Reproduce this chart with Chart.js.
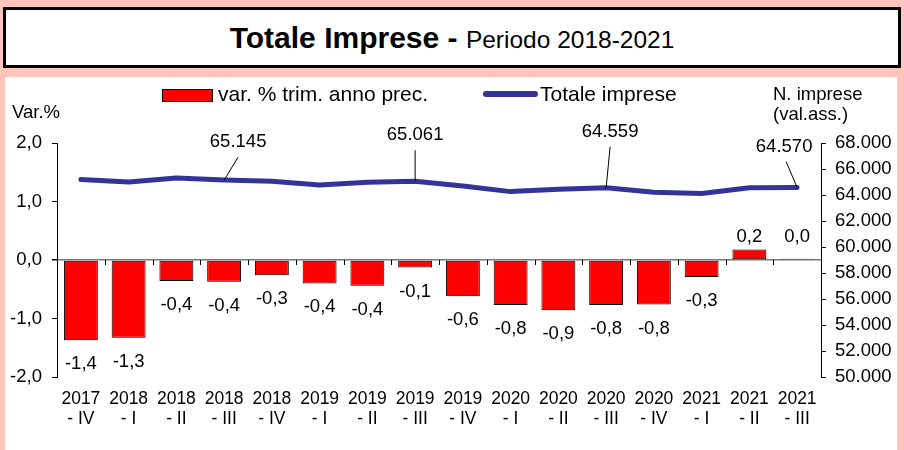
<!DOCTYPE html>
<html>
<head>
<meta charset="utf-8">
<script src="https://cdn.jsdelivr.net/npm/chart.js@4.4.1/dist/chart.umd.min.js"></script>
<style>
  body { margin: 0; width: 904px; height: 450px; overflow: hidden; background: #ffc4bb; font-family: "Liberation Sans", Arial, sans-serif; position: relative; }
  #title { position: absolute; left: 3px; top: 7px; width: 892px; height: 55px; border: 3px solid #000; background: #fff; text-align: center; line-height: 56px; white-space: nowrap; }
  #title b { font-size: 30px; }
  #title span { font-size: 24.5px; }
  #panel { position: absolute; left: 5px; top: 77px; width: 892px; height: 373px; background: #fff; }
  .txt { position: absolute; font-size: 18.5px; color: #000; white-space: nowrap; line-height: 20px; }
  .leg { font-size: 21px; }
  #boxBar { position: absolute; left: 162px; top: 89px; width: 49px; height: 11px; background: #ff0000; border: 1px solid #000; }
  #boxLine { position: absolute; left: 483px; top: 91px; width: 55px; height: 6px; background: #333399; border-radius: 3px; }
</style>
</head>
<body>
<div id="title"><b>Totale Imprese - </b><span>Periodo 2018-2021</span></div>
<div id="panel"><canvas id="chart" width="892" height="373"></canvas></div>
<div id="boxBar"></div>
<div class="txt leg" style="left:218px; top:84px;">var. % trim. anno prec.</div>
<div id="boxLine"></div>
<div class="txt leg" style="left:540px; top:84px;">Totale imprese</div>
<div class="txt" style="left:12px; top:102px;">Var.%</div>
<div class="txt" style="left:773px; top:84px;">N. imprese</div>
<div class="txt" style="left:773px; top:104px;">(val.ass.)</div>
<script>
// Dati
const categorie = [
    ['2017', '- IV'], ['2018', '- I'], ['2018', '- II'], ['2018', '- III'], ['2018', '- IV'],
    ['2019', '- I'], ['2019', '- II'], ['2019', '- III'], ['2019', '- IV'],
    ['2020', '- I'], ['2020', '- II'], ['2020', '- III'], ['2020', '- IV'],
    ['2021', '- I'], ['2021', '- II'], ['2021', '- III']
];
const varPerc = [-1.37, -1.33, -0.36, -0.37, -0.26, -0.40, -0.44, -0.13, -0.62, -0.77, -0.86, -0.77, -0.76, -0.29, 0.18, 0.02];
const totaleImprese = [65200, 65000, 65310, 65145, 65050, 64770, 64990, 65061, 64700, 64260, 64440, 64559, 64210, 64120, 64560, 64570];
const tickVar = [-2, -1, 0, 1, 2];
const tickImprese = [50000, 52000, 54000, 56000, 58000, 60000, 62000, 64000, 66000, 68000];
// punti del totale con etichetta
const etichetteIdx = [3, 7, 11, 15];
const etichetteOffset = [[14, -38], [0, -46], [4, -56], [-13, -41]];

const FONT = '"Liberation Sans", Arial, sans-serif';

function fmtVar(v) {
    return v.toFixed(1).replace('.', ',');
}
function fmtMigliaia(v) {
    return String(Math.round(v)).replace(/\B(?=(\d{3})+(?!\d))/g, '.');
}

// etichette, linee guida e tacche sull'asse dello zero
const etichettePlugin = {
    id: 'etichette',
    afterDatasetsDraw(chart) {
        const ctx = chart.ctx;
        const x = chart.scales.x;
        const y = chart.scales.y;
        const zeroY = y.getPixelForValue(0);

        ctx.save();
        // tacche tra le categorie
        ctx.strokeStyle = '#000';
        ctx.lineWidth = 1;
        for (let i = 1; i < categorie.length; i++) {
            const px = Math.round((x.getPixelForValue(i - 1) + x.getPixelForValue(i)) / 2) + 0.5;
            ctx.beginPath();
            ctx.moveTo(px, zeroY);
            ctx.lineTo(px, zeroY + 5);
            ctx.stroke();
        }

        ctx.fillStyle = '#000';
        ctx.font = '18.5px ' + FONT;
        ctx.textAlign = 'center';
        ctx.textBaseline = 'middle';

        // etichette barre
        chart.getDatasetMeta(1).data.forEach((bar, i) => {
            const v = varPerc[i];
            if (v < 0) {
                ctx.fillText(fmtVar(v), bar.x, bar.y + 24);
            } else {
                ctx.fillText(fmtVar(v), bar.x, Math.min(bar.y, zeroY - 10) - 13);
            }
        });

        // etichette linea
        const lineMeta = chart.getDatasetMeta(0);
        etichetteIdx.forEach((idx, k) => {
            const pt = lineMeta.data[idx];
            const tx = pt.x + etichetteOffset[k][0];
            const ty = pt.y + etichetteOffset[k][1];
            ctx.fillText(fmtMigliaia(totaleImprese[idx]), tx, ty);
            ctx.beginPath();
            ctx.moveTo(tx + (k === 3 ? 2 : 0), ty + 15);
            ctx.lineTo(pt.x, pt.y);
            ctx.stroke();
        });
        ctx.restore();
    }
};

new Chart(document.getElementById('chart'), {
    type: 'bar',
    data: {
        labels: categorie,
        datasets: [
            {
                type: 'line',
                label: 'Totale imprese',
                data: totaleImprese,
                yAxisID: 'y2',
                borderColor: '#333399',
                borderWidth: 5,
                borderJoinStyle: 'round',
                borderCapStyle: 'round',
                pointRadius: 0,
                tension: 0,
                order: 0
            },
            {
                label: 'var. % trim. anno prec.',
                data: varPerc,
                yAxisID: 'y',
                backgroundColor: '#ff0000',
                borderColor: '#000',
                borderWidth: 1,
                borderSkipped: false,
                categoryPercentage: 1,
                barPercentage: 0.71,
                order: 1
            }
        ]
    },
    options: {
        responsive: false,
        animation: false,
        layout: { padding: { top: 66, left: 0, right: 0, bottom: 0 } },
        plugins: {
            legend: { display: false },
            tooltip: { enabled: false }
        },
        scales: {
            x: {
                grid: { display: false, drawTicks: false },
                border: { display: false },
                ticks: {
                    color: '#000',
                    font: { family: FONT, size: 17.5, lineHeight: 1.1 },
                    padding: 13,
                    maxRotation: 0,
                    autoSkip: false
                },
                afterFit(scale) { scale.height = 73; }
            },
            y: {
                position: 'left',
                min: -2,
                max: 2,
                afterBuildTicks(scale) { scale.ticks = tickVar.map(v => ({ value: v })); },
                ticks: {
                    color: '#000',
                    font: { family: FONT, size: 18.5 },
                    padding: 10,
                    callback: v => fmtVar(v)
                },
                grid: {
                    drawOnChartArea: true,
                    color: c => (c.tick && c.tick.value === 0 ? '#777' : 'rgba(0,0,0,0)'),
                    lineWidth: c => (c.tick && c.tick.value === 0 ? 1.5 : 1),
                    tickColor: '#000',
                    tickLength: 5
                },
                border: { display: true, color: '#000', width: 1 },
                afterFit(scale) { scale.width = 52; }
            },
            y2: {
                position: 'right',
                min: 50000,
                max: 68000,
                afterBuildTicks(scale) { scale.ticks = tickImprese.map(v => ({ value: v })); },
                ticks: {
                    color: '#000',
                    font: { family: FONT, size: 18.5 },
                    padding: 9,
                    callback: v => fmtMigliaia(v)
                },
                grid: { drawOnChartArea: false, tickColor: '#000', tickLength: 5 },
                border: { display: true, color: '#000', width: 1 },
                afterFit(scale) { scale.width = 76; }
            }
        }
    },
    plugins: [etichettePlugin]
});
</script>
</body>
</html>
